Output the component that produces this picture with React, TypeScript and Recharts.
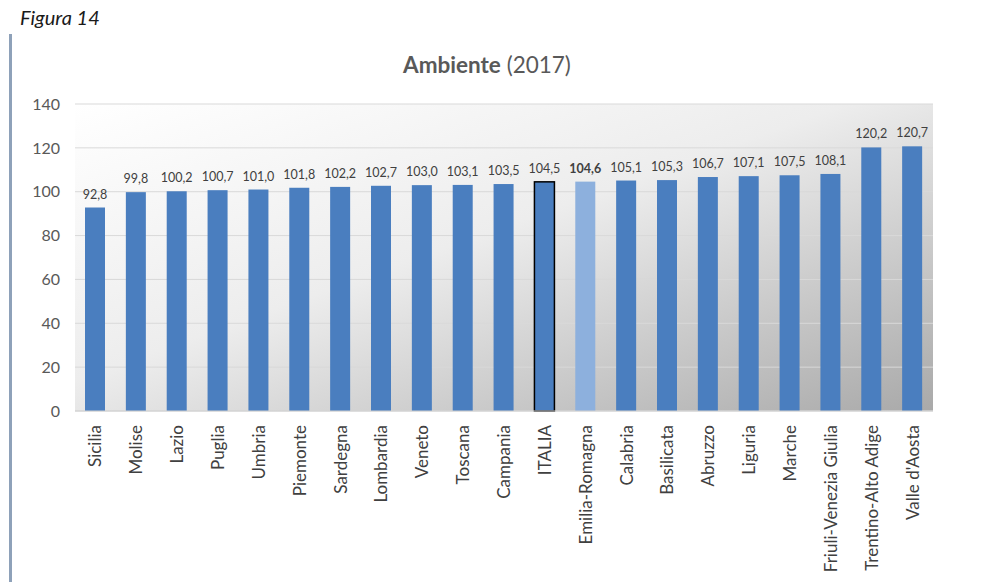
import React from 'react';
import { BarChart, Bar, XAxis, YAxis, CartesianGrid, LabelList } from 'recharts';

const regions = [
  'Sicilia', 'Molise', 'Lazio', 'Puglia', 'Umbria', 'Piemonte', 'Sardegna', 'Lombardia',
  'Veneto', 'Toscana', 'Campania', 'ITALIA', 'Emilia-Romagna', 'Calabria', 'Basilicata',
  'Abruzzo', 'Liguria', 'Marche', 'Friuli-Venezia Giulia', 'Trentino-Alto Adige', "Valle d'Aosta",
];
const values = [
  92.8, 99.8, 100.2, 100.7, 101.0, 101.8, 102.2, 102.7, 103.0, 103.1, 103.5,
  104.5, 104.6, 105.1, 105.3, 106.7, 107.1, 107.5, 108.1, 120.2, 120.7,
];
const yTicks = [0, 20, 40, 60, 80, 100, 120, 140];

const data = regions.map((name, i) => ({ name, value: values[i] }));

const FONT = 'Lato, "Open Sans", sans-serif';

const ValueLabel = (props: any) => {
  const { x, y, width, value, index } = props;
  const bold = regions[index] === 'Emilia-Romagna';
  const text = Number(value).toFixed(1).replace('.', ',');
  return (
    <text
      x={Number(x) + Number(width) / 2}
      y={Number(y) - 9}
      textAnchor="middle"
      fill="#404040"
      fontSize={12.5}
      fontFamily={FONT}
      fontWeight={bold ? 700 : 400}
    >
      {text}
    </text>
  );
};

const RegionTick = (props: any) => {
  const { x, y, payload } = props;
  return (
    <text
      transform={`translate(${x + 6},${y}) rotate(-90)`}
      textAnchor="end"
      fill="#404040"
      fontSize={17}
      fontFamily={FONT}
    >
      {payload.value}
    </text>
  );
};

const RegionBar = (props: any) => {
  const { x, y, width, height, payload } = props;
  const name = payload?.name;
  const isItalia = name === 'ITALIA';
  const fill = name === 'Emilia-Romagna' ? '#8db0dd' : '#4a7ebf';
  return (
    <rect
      x={x}
      y={y}
      width={width}
      height={height}
      fill={fill}
      stroke={isItalia ? '#000000' : 'none'}
      strokeWidth={isItalia ? 1.5 : 0}
    />
  );
};

export default function App() {
  return (
    <div style={{ position: 'absolute', left: 0, top: 0, width: 983, height: 582, background: '#fff', fontFamily: FONT }}>
      <div style={{ position: 'absolute', left: 20, top: 5, fontSize: 20, fontStyle: 'italic', color: '#1a1a1a' }}>
        Figura 14
      </div>
      <div style={{ position: 'absolute', left: 9, top: 34, width: 3, height: 548, background: '#8ea1b9' }} />
      <div style={{ position: 'absolute', left: 0, width: 974, top: 51, textAlign: 'center', fontSize: 22.5, color: '#595959' }}>
        <b>Ambiente</b> (2017)
      </div>
      {/* plot area background */}
      <div
        style={{
          position: 'absolute',
          left: 75,
          top: 104,
          width: 858,
          height: 307,
          background: 'linear-gradient(to bottom right, #ffffff 0%, #ededed 45%, #a9a9a9 100%)',
        }}
      />
      <div style={{ position: 'absolute', left: 0, top: 0 }}>
        <BarChart
          width={983}
          height={582}
          data={data}
          margin={{ top: 104, right: 50, bottom: 0, left: 0 }}
          barSize={20}
        >
          <CartesianGrid vertical={false} stroke="#d9d9d9" />
          <XAxis
            dataKey="name"
            interval={0}
            height={171}
            tick={RegionTick}
            tickLine={false}
            axisLine={{ stroke: '#d0d0d0' }}
            tickSize={0}
            tickMargin={14}
          />
          <YAxis
            width={75}
            domain={[0, 140]}
            ticks={yTicks}
            tickLine={false}
            axisLine={false}
            tickSize={0}
            tickMargin={15}
            tick={{ fill: '#595959', fontSize: 16, fontFamily: FONT }}
          />
          <Bar dataKey="value" fill="#4a7ebf" shape={RegionBar} isAnimationActive={false}>
            <LabelList dataKey="value" content={ValueLabel} />
          </Bar>
        </BarChart>
      </div>
    </div>
  );
}
